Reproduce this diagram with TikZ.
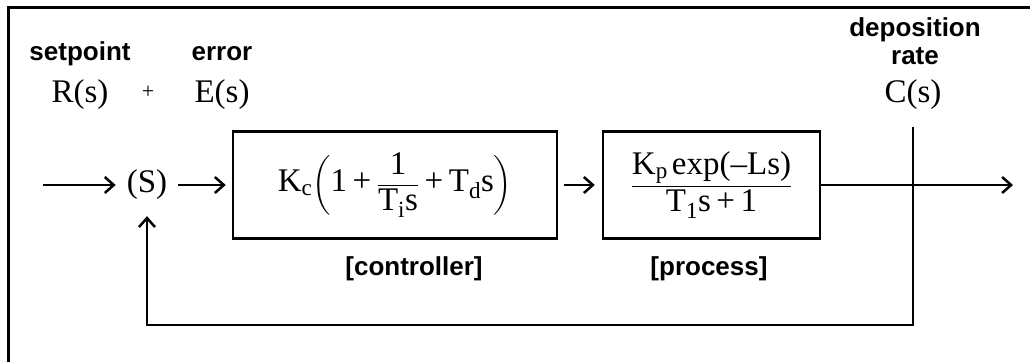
\documentclass[tikz,border=0pt]{standalone}
\usepackage{amsmath}
\usepackage{fontspec}
\setmainfont{Liberation Serif}
\newfontfamily\labelsans{Liberation Sans}
\usetikzlibrary{positioning,arrows.meta}
\newcommand{\tm}[1]{\text{#1}}
\newcommand{\tplus}{\mathbin{\text{+}}}
\tikzset{
  block/.style  = {draw, line width=2.5pt, minimum height=107pt, inner sep=0pt,
                   font=\fontsize{33}{36}\selectfont},
  sig/.style    = {inner sep=0pt, anchor=base, font=\fontsize{33}{36}\selectfont},
  tag/.style    = {inner sep=0pt, align=center, font=\fontsize{26}{28}\labelsans\bfseries},
  wire/.style   = {line width=2.5pt},
  arrow/.style  = {-{Straight Barb[length=9pt,width=16pt]}, line width=2.5pt},
}

\begin{document}
\begin{tikzpicture}[x=1pt, y=-1pt]
  \useasboundingbox (0,0) rectangle (1030,362);
  % frame (only top and left edge visible)
  \draw[wire, line width=3pt] (1030,7) -- (8,7) -- (8,362);

  % signal names
  \node[tag, anchor=base]  (spname)  at (80,60)  {setpoint};
  \node[tag, anchor=base]  (errname) at (222,60) {error};
  \node[tag, anchor=north] (depname) at (915,17) {deposition\\rate};
  \node[sig] (R) at (80,102)  {R(s)};
  \node[sig, anchor=center, font=\fontsize{22}{26}\selectfont] (plus) at (148,92) {+};
  \node[sig] (E) at (222,102) {E(s)};
  \node[sig] (C) at (913,102) {C(s)};

  % loop
  \node[sig, anchor=center, inner xsep=11pt, inner ysep=16pt] (sum) at (147,185) {(S)};
  \node[block, minimum width=324pt] (ctrl) at (395,185)
    {$\tm{K}_{\tm{c}}\biggl(\tm{1}\tplus\dfrac{\tm{1}}{\tm{T}_{\tm{i}}\tm{s}}\tplus\tm{T}_{\tm{d}}\tm{s}\biggr)$};
  \node[block, minimum width=217pt] (proc) at (711.5,185)
    {$\dfrac{\tm{K}_{\tm{p}}\,\tm{exp(–Ls)}}{\tm{T}_{\tm{1}}\tm{s}\tplus\tm{1}}$};
  \node[tag, anchor=base] (ctrlname) at (414,275) {[controller]};
  \node[tag, anchor=base] (procname) at (709,275) {[process]};

  \coordinate (in)  at (43,185);
  \coordinate (out) at (1013,185);
  \coordinate (tap) at (913,127);
  \coordinate (fb)  at (913,325);

  \draw[arrow] (in) -- (sum);
  \draw[arrow, shorten >=6pt] (sum) -- (ctrl);
  \draw[arrow, shorten <=6pt, shorten >=7pt] (ctrl) -- (proc);
  \draw[arrow] (proc) -- (out);
  \draw[arrow] (tap) -- (fb) -| (sum.south);
\end{tikzpicture}
\end{document}
